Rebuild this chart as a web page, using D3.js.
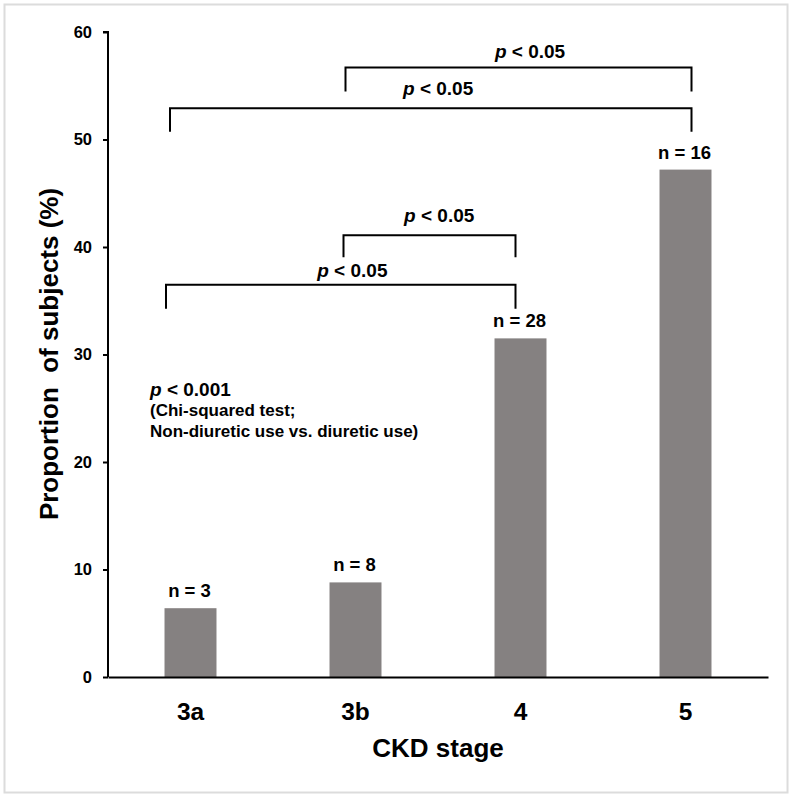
<!DOCTYPE html>
<html>
<head>
<meta charset="utf-8">
<script src="https://cdn.jsdelivr.net/npm/d3@7"></script>
<style>
  html, body { margin: 0; padding: 0; background: #fff; }
  svg { display: block; font-family: "Liberation Sans", Arial, sans-serif; font-weight: bold; }
</style>
</head>
<body>
<svg id="chart" width="800" height="798"></svg>
<script>
// ---- data ----
const categories = ["3a", "3b", "4", "5"];
const proportions = [6.4, 8.8, 31.5, 47.2];
const nLabels = ["n = 3", "n = 8", "n = 28", "n = 16"];
const yTicks = [0, 10, 20, 30, 40, 50, 60];
const comparisons = [
  { from: "3b", to: "5", level: 56.7, label: "p < 0.05" },
  { from: "3a", to: "5", level: 52.9, label: "p < 0.05" },
  { from: "3b", to: "4", level: 41.1, label: "p < 0.05" },
  { from: "3a", to: "4", level: 36.5, label: "p < 0.05" }
];
const overallTest = ["p < 0.001", "(Chi-squared test;", "Non-diuretic use vs. diuretic use)"];
const xTitle = "CKD stage";
const yTitle = "Proportion  of subjects (%)";

// ---- layout ----
const svg = d3.select("#chart");
const mLeft = 108, mRight = 768, mTop = 32, mBottom = 677;
const FONT = "Liberation Sans, Arial, sans-serif";

svg.append("rect").attr("x", 4.5).attr("y", 4.5).attr("width", 783).attr("height", 788)
  .attr("fill", "#fff").attr("stroke", "#dcdcdc").attr("stroke-width", 2);

const x = d3.scaleBand().domain(categories).range([mLeft, mRight]).padding(0);
const y = d3.scaleLinear().domain([0, 60]).range([mBottom, mTop]);
const barW = x.bandwidth() * 0.315;
const cx = c => x(c) + x.bandwidth() / 2;

// bars
svg.append("g").selectAll("rect").data(categories).join("rect")
  .attr("x", d => cx(d) - barW / 2)
  .attr("width", barW)
  .attr("y", (d, i) => y(proportions[i]))
  .attr("height", (d, i) => y(0) - y(proportions[i]))
  .attr("fill", "#858181");

// n labels
svg.append("g").selectAll("text").data(categories).join("text")
  .attr("x", d => cx(d) - 1)
  .attr("y", (d, i) => y(proportions[i]) - 11)
  .attr("text-anchor", "middle")
  .attr("font-size", 18.5)
  .text((d, i) => nLabels[i]);

// y axis
const yAxis = d3.axisLeft(y).tickValues(yTicks).tickSize(5).tickPadding(11);
const gy = svg.append("g").attr("transform", `translate(${mLeft},0)`).call(yAxis);
gy.select(".domain").attr("stroke", "#000").attr("stroke-width", 2).attr("d", `M-5,${mTop}H0V${mBottom}`);
gy.selectAll(".tick line").attr("stroke", "#000").attr("stroke-width", 2);
gy.selectAll(".tick text").attr("font-size", 16.5).attr("font-weight", "bold")
  .attr("font-family", FONT).attr("fill", "#000");

// x axis
const xAxis = d3.axisBottom(x).tickSize(0).tickPadding(0);
const gx = svg.append("g").attr("transform", `translate(0,${mBottom})`).call(xAxis);
gx.select(".domain").attr("stroke", "#000").attr("stroke-width", 2);
gx.selectAll(".tick text").attr("font-size", 24.5).attr("font-weight", "bold")
  .attr("font-family", FONT).attr("fill", "#000")
  .attr("dy", null).attr("y", 43);

// axis titles
svg.append("text").attr("x", (mLeft + mRight) / 2).attr("y", 757).attr("text-anchor", "middle")
  .attr("font-size", 26).text(xTitle);
svg.append("text").attr("transform", "translate(58,354) rotate(-90)")
  .attr("text-anchor", "middle").attr("font-size", 26)
  .attr("xml:space", "preserve").style("white-space", "pre").text(yTitle);

// comparison brackets
const fromOff = [-10, -20.5, -12, -24.5];
const toOff = [6, 6, -5, -5];
const drops = [24, 23.5, 22, 24];
const labelShift = [11.5, 7.4, 9.7, 11.6];
const labelGap = [9.4, 13, 13.3, 7.6];
const gb = svg.append("g");
comparisons.forEach((c, i) => {
  const xa = cx(c.from) + fromOff[i];
  const xb = cx(c.to) + toOff[i];
  const yl = y(c.level);
  gb.append("path")
    .attr("d", `M${xa},${yl + drops[i]}V${yl}H${xb}V${yl + drops[i]}`)
    .attr("fill", "none").attr("stroke", "#000").attr("stroke-width", 2);
  const t = gb.append("text").attr("y", yl - labelGap[i]).attr("font-size", 19)
    .attr("x", (xa + xb) / 2 + labelShift[i]).attr("text-anchor", "middle");
  t.append("tspan").attr("font-style", "italic").text(c.label.slice(0, 1));
  t.append("tspan").text(c.label.slice(1));
});

// overall test annotation
const ga = svg.append("g");
const t0 = ga.append("text").attr("x", 150).attr("y", 396).attr("font-size", 19);
t0.append("tspan").attr("font-style", "italic").text(overallTest[0].slice(0, 1));
t0.append("tspan").text(overallTest[0].slice(1));
ga.append("text").attr("x", 150).attr("y", 416).attr("font-size", 17).text(overallTest[1]);
ga.append("text").attr("x", 150).attr("y", 437).attr("font-size", 17).text(overallTest[2]);
</script>
</body>
</html>
